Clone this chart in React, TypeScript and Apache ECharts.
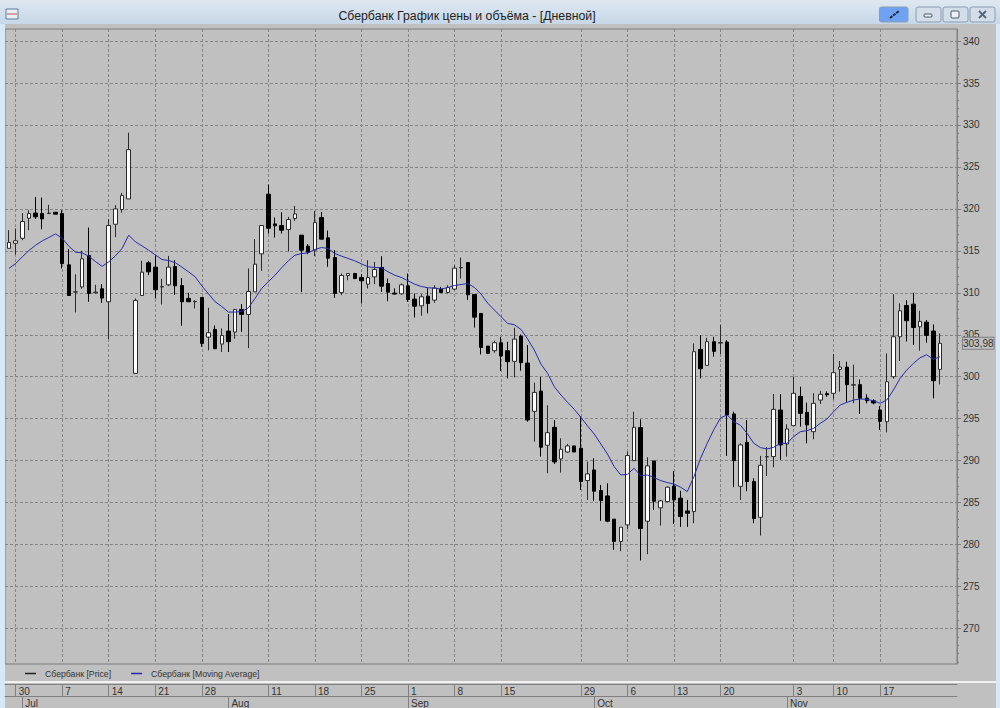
import React, { useEffect, useRef } from "react";
import * as echarts from "echarts";

const opens = [315.3,315.9,316.5,318.89,319.5,319.44,319.44,319.6,319.44,313.33,310.08,310.7,314.44,310.0,310.48,308.93,318.17,319.92,321.19,300.4,309.68,313.57,313.06,310.7,310.95,313.13,310.87,309.33,308.93,309.44,304.72,305.63,303.89,305.44,305.32,308.02,307.42,310.12,314.64,321.75,318.21,318.02,317.54,318.85,316.87,315.56,315.08,318.97,316.55,314.2,310.04,312.06,312.3,311.83,311.03,311.9,313.02,311.11,309.96,309.88,310.83,309.25,308.45,309.6,309.13,310.44,310.04,310.44,312.98,313.61,309.8,307.54,303.65,303.1,304.05,303.1,301.83,304.84,301.63,295.87,298.29,291.83,293.97,290.2,291.03,291.75,291.47,287.62,288.89,286.43,285.79,283.02,280.36,282.34,290,293.93,282.78,289.96,284.37,285.12,286.98,285.52,284,283.93,303.25,301.35,304.17,304.0,304.13,295.56,286.94,292.18,287.5,283.25,290.44,290.48,296.03,291.98,294.17,297.66,295.75,293.45,297.22,297.98,298.02,300.87,301.15,299.0,299.05,297.46,297.14,296.03,294.64,300,304.76,308.49,308.65,305.95,306.5,305.44,300.87];
const closes = [316.0,316.2,318.5,319.44,319.05,318.8,319.5,319.37,313.49,309.68,310.12,314.05,309.92,310.08,309.37,318.02,320,321.59,327.06,309.09,312.46,312.5,310.36,310.74,313.06,310.83,308.93,308.93,308.97,303.97,305.24,303.33,304.92,304.17,308.02,307.42,310.16,313.41,318.02,317.7,317.98,317.46,318.73,319.4,315.08,314.84,318.37,316.39,314.13,309.92,312.06,312.3,311.7,311.43,311.83,312.78,310.79,310.08,309.85,310.95,309.2,308.41,309.52,308.73,310.56,310.04,310.63,312.94,313.02,309.76,307.1,303.49,302.78,304.05,302.46,301.79,304.48,301.67,294.84,298.13,291.59,293.33,289.84,291.35,291.75,291.03,287.5,288.41,286.35,285.24,282.78,280.36,282.06,290.6,293.97,281.9,289.37,285.16,285.2,286.83,285.32,283.33,283.73,302.98,300.95,304.17,303.02,304.08,295.44,290,291.87,287.5,283.1,289.44,290.48,296.11,291.87,293.77,298.02,295.63,294.25,296.83,297.9,297.86,300.48,301.15,299.05,299.05,297.42,297.14,296.87,294.68,299.4,304.76,307.86,306.67,305.87,306.59,304.92,299.52,303.98];
const lows = [315.3,314.56,316.27,317.46,318.8,317.58,319.44,319.37,312.9,309.68,307.66,310.48,308.93,309.92,308.81,304.48,316.63,319.56,321.19,300.32,309.68,312.1,309.33,308.61,310.8,309.76,306.07,308.93,308.13,303.57,303.14,303.33,302.94,302.94,304.52,305.32,303.41,310.12,312.62,317.06,316.59,317.06,314.92,318.57,310.08,314.6,314.37,316.39,313.1,309.4,309.72,311.5,311.63,308.73,310.52,311.03,310.12,309,309.8,309.8,308.93,307.06,307.26,307.54,308.8,310.04,309.92,310.32,311.7,309.13,305.87,302.66,302.7,302.86,300.67,299.8,299.92,300.71,294.64,292.26,290.48,288.49,289.6,288.57,290.95,291.03,286.51,285.32,285.16,282.82,282.66,279.37,279.2,281.86,290,278.1,278.85,284.13,282.26,285.04,282.46,282.1,282.1,282.54,299.8,301.35,302.38,302.7,290.56,286.83,285.32,286.35,282.54,281.07,288.17,289.2,290.08,290.48,294.17,294.05,292.06,292.54,296.75,297.6,297.3,298.21,296.9,296.83,295.56,296.83,296.71,293.65,293.37,299.76,301.87,304.2,303.77,303.1,304.05,297.42,299.09];
const highs = [317.46,317.66,319.5,319.84,321.43,321.35,320.48,319.6,319.84,315.24,312.2,315,317.78,310.95,311.03,318.77,320.44,321.9,329.09,309.33,313.81,313.81,314.44,311.67,314.4,313.89,311.75,310,309.13,309.44,308.21,306.11,305.75,307.46,308.02,308.65,312.9,316.39,318.02,322.9,318.97,319.6,319.05,320.36,316.87,315.8,319.76,319.64,317.42,315.08,312.3,312.3,312.38,312.22,313.89,313.69,314.37,311.7,310.52,311.11,312.3,309.92,309.84,310.56,310.9,310.71,310.9,313.29,314.2,313.61,309.8,307.54,303.65,304.29,304.76,304.17,305.83,305.04,303.77,299.29,300,296.59,294.84,292.66,291.98,291.75,295.32,289.88,290.28,287.1,287.3,283.02,282.06,291.07,295.83,294.92,290.4,289.96,285.32,286.9,288.77,286.4,285.32,303.97,304.96,304.64,304.76,306.15,304.37,295.83,292.06,294.84,287.9,290.56,291.6,297.94,297.94,294.33,300,298.81,296.9,298.02,298.33,298.25,302.7,301.87,301.79,301.43,299.68,297.9,297.3,296.5,302.78,309.84,308.73,309.13,310,307.86,306.75,306.23,305.16];
const movingAverage = [312.9,313.49,314.29,315.04,315.67,316.19,316.59,317.02,316.5,315.56,314.84,314.76,314.37,313.73,313.15,313.69,314.4,315.28,316.87,316.07,315.6,315.08,314.52,313.97,313.85,313.6,313.06,312.5,311.9,310.83,309.88,308.93,308.37,307.7,307.7,307.78,308.2,309.33,310.52,311.31,312.1,312.98,313.81,314.48,314.68,314.76,315.16,315.4,315.28,314.68,314.37,314.09,313.81,313.45,313.1,313.02,312.98,312.5,312.1,311.83,311.43,311.03,310.75,310.6,310.56,310.44,310.63,310.87,310.99,311.11,310.63,309.84,308.75,307.94,307.14,306.35,306.19,305.63,304.48,303.17,301.5,300.4,298.81,297.82,296.94,296.11,295.16,294.13,293.17,291.98,290.79,289.29,288.29,288.37,289.09,288.21,288.29,287.98,287.62,287.38,287.22,286.83,286.31,288.1,290.28,292.06,293.7,295.1,295.44,294.64,294.21,293.25,292.06,291.55,291.39,291.59,292.06,292.06,292.86,293.45,293.57,293.85,294.44,294.96,295.83,296.63,296.94,297.22,297.34,297.3,297.14,296.83,297.22,298.41,299.8,300.79,301.59,302.26,302.62,302.06,302.38];

const dayLabels = ["30","7","14","21","28","11","18","25","1","8","15","29","6","13","20","3","10","17"];
const dayIndexes = [1,8,15,22,29,39,46,53,60,67,74,86,93,100,107,118,124,131];
const monthLabels = ["Jul","Aug","Sep","Oct","Nov"];
const monthIndexes = [2,33,60,88,117];
const priceTicks = [270,275,280,285,290,295,300,305,310,315,320,325,330,335,340];
const minorPriceTicks = Array.from({ length: 75 }, (_, k) => 266 + k);
const lastPriceValue = 303.98;
const lastPriceText = "303,98";
const titleText = "Сбербанк График цены и объёма - [Дневной]";
const priceName = "Сбербанк [Price]";
const averageName = "Сбербанк [Moving Average]";

const FONT = '"Liberation Sans", Arial, sans-serif';
const PANEL = "#c0c0c0";
const GRID_LINE = "#858585";
const X_MIN = -0.6;
const X_MAX = 142.56;
const Y_MIN = 265.76;
const Y_MAX = 341.44;

function button(x: number, w: number, fill: string) {
  return {
    type: "rect", z: 1,
    shape: { x, y: 7, width: w, height: 15, r: 2 },
    style: { fill, stroke: "#8c9db0", lineWidth: 1 },
  };
}

function buildOption() {
  const candles = opens.map((o, i) => [i, o, closes[i], lows[i], highs[i]]);
  const average = movingAverage.map((v, i) => [i, v]);
  return {
    animation: false,
    backgroundColor: PANEL,
    textStyle: { fontFamily: FONT },
    title: {
      text: titleText, left: 462, top: 5, textAlign: "center",
      textStyle: { fontFamily: FONT, fontSize: 12.3, fontWeight: "normal", color: "#222" },
    },
    legend: {
      left: 20, top: 664, itemWidth: 11, itemHeight: 1.5, itemGap: 20, icon: "rect",
      selectedMode: false,
      textStyle: { fontFamily: FONT, fontSize: 8.7, color: "#333", padding: [0, 0, 0, 4] },
      data: [
        { name: priceName, itemStyle: { color: "#222", borderWidth: 0 } },
        { name: averageName, itemStyle: { color: "#2a2aa8", borderWidth: 0 } },
      ],
    },
    grid: {
      show: true, left: 5, right: 43, top: 29, height: 635,
      backgroundColor: PANEL, borderColor: "#7d7d7d", borderWidth: 1,
    },
    xAxis: [
      {
        type: "value", min: X_MIN, max: X_MAX, position: "bottom", offset: 20,
        axisLine: { show: true, onZero: false, lineStyle: { color: "#808080" } },
        axisTick: { show: true, length: 12, customValues: dayIndexes, lineStyle: { color: "#808080" } },
        axisLabel: {
          show: true, customValues: dayIndexes, align: "left", margin: 2, hideOverlap: false,
          padding: [0, 0, 0, 3], fontSize: 10, fontFamily: FONT, color: "#333",
          formatter: (v: number) => dayLabels[dayIndexes.indexOf(v)] ?? "",
        },
        splitLine: { show: true, lineStyle: { color: GRID_LINE, type: [3, 2], width: 1 } },
      },
      {
        type: "value", min: X_MIN, max: X_MAX, position: "bottom", offset: 32,
        axisLine: { show: true, onZero: false, lineStyle: { color: "#808080" } },
        axisTick: { show: true, length: 12, customValues: monthIndexes, lineStyle: { color: "#808080" } },
        axisLabel: {
          show: true, customValues: monthIndexes, align: "left", margin: 2, hideOverlap: false,
          padding: [0, 0, 0, 3], fontSize: 10, fontFamily: FONT, color: "#333",
          formatter: (v: number) => monthLabels[monthIndexes.indexOf(v)] ?? "",
        },
        splitLine: { show: false },
      },
    ],
    yAxis: [
      {
        type: "value", min: Y_MIN, max: Y_MAX, position: "right", offset: 0,
        axisLine: { show: true, onZero: false, lineStyle: { color: "#808080" } },
        axisTick: { show: true, length: 4, customValues: priceTicks, lineStyle: { color: "#808080" } },
        axisLabel: {
          show: true, customValues: priceTicks, margin: 6, fontSize: 10, fontFamily: FONT, color: "#333",
          hideOverlap: false, formatter: (v: number) => String(v),
        },
        splitLine: { show: true, lineStyle: { color: GRID_LINE, type: [3, 2], width: 1 } },
      },
      {
        type: "value", min: Y_MIN, max: Y_MAX, position: "right", offset: 0,
        axisLine: { show: false, onZero: false },
        axisTick: { show: true, length: 2, customValues: minorPriceTicks, lineStyle: { color: "#808080" } },
        axisLabel: { show: false },
        splitLine: { show: false },
      },
    ],
    series: [
      {
        name: priceName, type: "candlestick", xAxisIndex: 0, yAxisIndex: 0,
        barWidth: 4, data: candles, encode: { x: 0, y: [1, 2, 3, 4] },
        itemStyle: { color: "#ffffff", color0: "#000000", borderColor: "#2a2a2a", borderColor0: "#000000", borderWidth: 1 },
        markLine: {
          silent: true, symbol: "none",
          lineStyle: { color: "transparent", width: 0 },
          data: [{ yAxis: lastPriceValue }],
          label: {
            show: true, position: "end", distance: 6, formatter: lastPriceText,
            fontSize: 10, fontFamily: FONT, color: "#333",
            backgroundColor: PANEL, borderColor: "#808080", borderWidth: 1, padding: [1, 0, 0, 0],
          },
        },
      },
      {
        name: averageName, type: "line", xAxisIndex: 0, yAxisIndex: 0,
        data: average, showSymbol: false, symbol: "none",
        lineStyle: { color: "#2a2aa8", width: 1 }, itemStyle: { color: "#2a2aa8" },
      },
    ],
    graphic: [
      {
        type: "rect", z: 0, shape: { x: 0, y: 0, width: 1000, height: 24 },
        style: {
          fill: new echarts.graphic.LinearGradient(0, 0, 0, 1, [
            { offset: 0, color: "#dfe8f1" }, { offset: 1, color: "#c6d7e8" },
          ]),
        },
      },
      { type: "rect", z: 0, shape: { x: 0, y: 24, width: 5, height: 684 }, style: { fill: "#d7e8f7" } },
      { type: "rect", z: 0, shape: { x: 996, y: 24, width: 4, height: 684 }, style: { fill: "#d7e8f7" } },
      { type: "rect", z: 0, shape: { x: 5, y: 681, width: 991, height: 2 }, style: { fill: "#f2f2f2" } },
      { type: "rect", z: 1, shape: { x: 6, y: 9, width: 12, height: 10 }, style: { fill: "#e8eef4", stroke: "#5a7d9a", lineWidth: 1 } },
      { type: "line", z: 2, shape: { x1: 7, y1: 14, x2: 17, y2: 14 }, style: { stroke: "#c05050", lineWidth: 1 } },
      button(879.5, 28.5, "#6fa2f2"),
      { type: "line", z: 2, shape: { x1: 890, y1: 18, x2: 899, y2: 11 }, style: { stroke: "#1c2c44", lineWidth: 2, lineDash: [3, 1] } },
      button(916, 25, "#d3deea"),
      button(943, 25, "#d3deea"),
      button(970, 25, "#d3deea"),
      { type: "rect", z: 2, shape: { x: 924, y: 14, width: 8, height: 3, r: 1 }, style: { fill: "#eef2f6", stroke: "#4a5a6a", lineWidth: 1 } },
      { type: "rect", z: 2, shape: { x: 951, y: 11, width: 8, height: 7, r: 1 }, style: { fill: "#eef2f6", stroke: "#4a5a6a", lineWidth: 1 } },
      { type: "line", z: 2, shape: { x1: 979, y1: 11, x2: 986, y2: 18 }, style: { stroke: "#5a6a7a", lineWidth: 2 } },
      { type: "line", z: 2, shape: { x1: 986, y1: 11, x2: 979, y2: 18 }, style: { stroke: "#5a6a7a", lineWidth: 2 } },
    ],
  };
}

export default function App() {
  const ref = useRef<HTMLDivElement>(null);
  useEffect(() => {
    if (!ref.current) return;
    const chart = echarts.init(ref.current, undefined, { renderer: "svg" });
    chart.setOption(buildOption() as any);
    return () => chart.dispose();
  }, []);
  return <div ref={ref} style={{ position: "fixed", left: 0, top: 0, width: 1000, height: 708 }} />;
}
